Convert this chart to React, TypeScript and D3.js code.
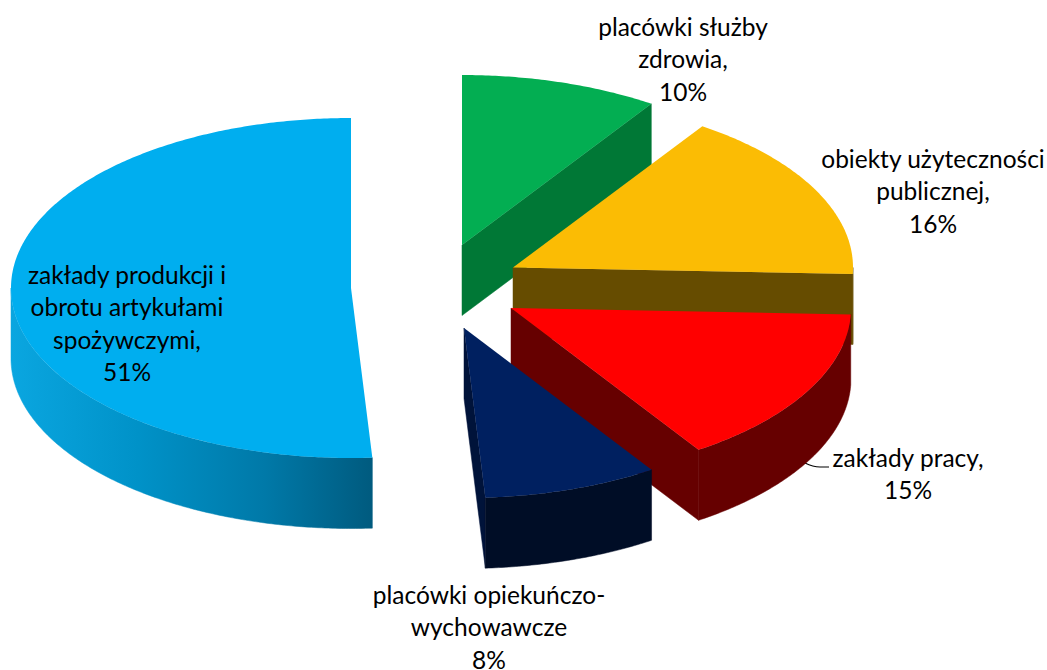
import React from "react";
import * as d3 from "d3";

const categories = ["placówki służby zdrowia", "obiekty użyteczności publicznej", "zakłady pracy", "placówki opiekuńczo-wychowawcze", "zakłady produkcji i obrotu artykułami spożywczymi"];
const values = [9.4, 16.2, 15.1, 8.3, 51.0];
const shownPercent = ["10%", "16%", "15%", "8%", "51%"];
const topColors = ["#03AE52", "#FBBC04", "#FF0000", "#002060", "#00AEEF"];
const sideColors = ["#007836", "#664C00", "#660000", "#000D26", "url(#blueWall)"];
const edgeColors = ["#007836", "#664C00", "#660000", "#00133A", "#00AEEF"];
const labelLines = [
  ["placówki służby", "zdrowia,"],
  ["obiekty użyteczności", "publicznej,"],
  ["zakłady pracy,"],
  ["placówki opiekuńczo-", "wychowawcze"],
  ["zakłady produkcji i", "obrotu artykułami", "spożywczymi,"],
];

const W = 1047, H = 670, RX = 340, RY = 170, DEPTH = 70.5;
// Exploded apex of each slice, in page pixels
const apexes: [number, number][] = [[462, 245], [513, 267.5], [511, 308], [464, 328], [351, 288]];
const labelAnchors: [number, number][] = [[683, 36], [933, 168], [908, 467], [489, 604], [127, 284]];
const LINE = 32.3;

const pieGen = d3.pie<number>().sort(null).startAngle(0).endAngle(2 * Math.PI);
const arcs = pieGen(values);
const lineGen = d3.line();

const pt = (c: [number, number], a: number, dy = 0): [number, number] => [c[0] + RX * Math.sin(a), c[1] - RY * Math.cos(a) + dy];
const sample = (a0: number, a1: number) => {
  const n = Math.max(2, Math.ceil(Math.abs(a1 - a0) / 0.01));
  return d3.range(n + 1).map((i) => a0 + ((a1 - a0) * i) / n);
};

export default function App() {
  return (
    <svg width={W} height={H} viewBox={`0 0 ${W} ${H}`} style={{ position: "absolute", left: 0, top: 0, display: "block", background: "#fff" }}>
      <defs>
        <linearGradient id="blueWall" gradientUnits="userSpaceOnUse" x1={11} x2={374} y1={0} y2={0}>
          <stop offset="0" stopColor="#0AA6E0" />
          <stop offset="0.35" stopColor="#0092C8" />
          <stop offset="0.7" stopColor="#0079A8" />
          <stop offset="1" stopColor="#005A7E" />
        </linearGradient>
      </defs>
      <path d="M805,463 Q813,467 820,467 L829,467" fill="none" stroke="#000" strokeWidth={1.2} />
      {[4, 0, 1, 2, 3].map((i) => {
        const c = apexes[i];
        const { startAngle: s, endAngle: e } = arcs[i];
        const top = lineGen([c, ...sample(s, e).map((a) => pt(c, a))])! + "Z";
        const endP = pt(c, e), endB = pt(c, e, DEPTH);
        const edge = lineGen([c, endP, endB, [c[0], c[1] + DEPTH]])! + "Z";
        const w0 = Math.max(s, Math.PI / 2), w1 = Math.min(e, (3 * Math.PI) / 2);
        const wall = w1 > w0
          ? lineGen([...sample(w0, w1).map((a) => pt(c, a)), ...sample(w1, w0).map((a) => pt(c, a, DEPTH))])! + "Z"
          : null;
        return (
          <g key={categories[i]}>
            {i !== 4 && <path d={edge} fill={edgeColors[i]} stroke={edgeColors[i]} strokeWidth={0.5} />}
            {wall && <path d={wall} fill={sideColors[i]} stroke={sideColors[i]} strokeWidth={0.5} />}
            <path d={top} fill={topColors[i]} />
          </g>
        );
      })}
      <g fontFamily="Lato, Carlito, sans-serif" fontSize={24.5} fill="#000" textAnchor="middle">
        {labelLines.map((lines, i) => (
          <text key={i} x={labelAnchors[i][0]} y={labelAnchors[i][1]}>
            {[...lines, shownPercent[i]].map((t, j) => (
              <tspan key={j} x={labelAnchors[i][0]} y={labelAnchors[i][1] + j * LINE}>{t}</tspan>
            ))}
          </text>
        ))}
      </g>
    </svg>
  );
}
